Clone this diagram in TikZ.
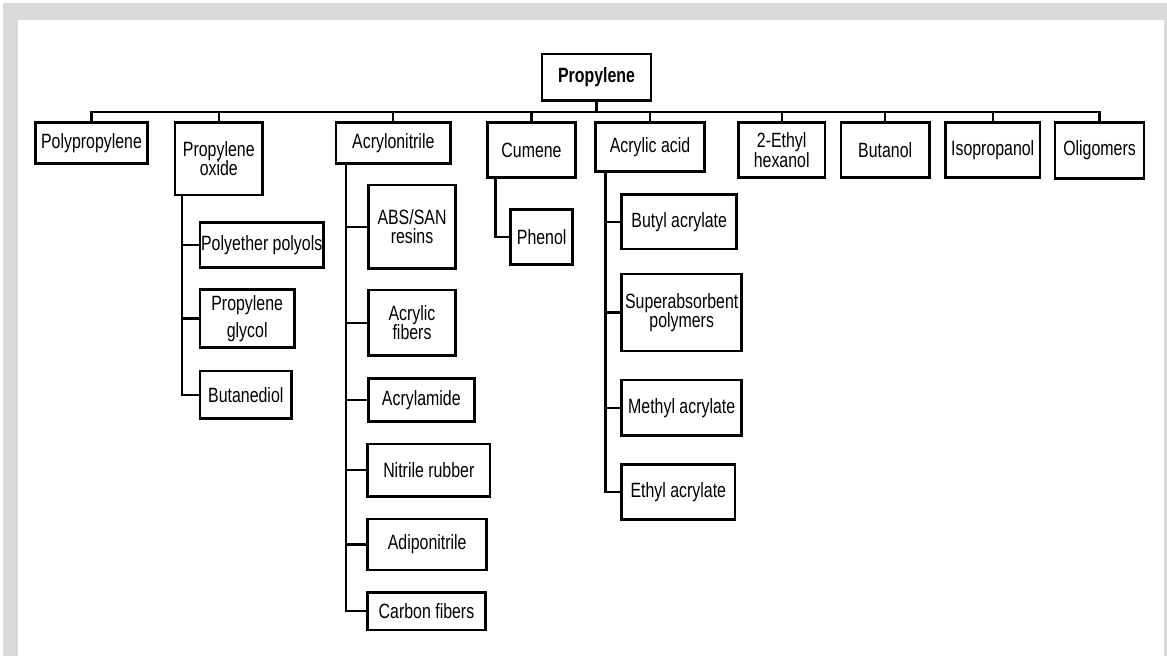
\documentclass[tikz,border=0pt]{standalone}
\usepackage{fontspec}
\setmainfont{Liberation Sans}[FakeStretch=0.77]
\definecolor{framegray}{RGB}{217,217,217}
\tikzset{
  prodbox/.style={draw=black, line width=1.9pt, fill=white, inner sep=0pt, align=center,
    font=\fontsize{15.5}{14.5}\selectfont},
  pbox/.style 2 args={prodbox, minimum width=#1, minimum height=#2},
  link/.style={line width=1.7pt}
}
\begin{document}
\begin{tikzpicture}[x=0.75pt,y=0.75pt,yscale=-1,xscale=1]
\useasboundingbox (0,0) rectangle (1167,656);

%Shape: Frame
\fill [white] (0,0) rectangle (1167,656);
\fill [framegray] (3,3) rectangle (1167,656);
\fill [white] (18,20) rectangle (1164,656);

% Root
\node [pbox={81.75pt}{35pt}, font=\fontsize{15.5}{14.5}\selectfont\bfseries] (prop) at (596.5,77.3) {Propylene};

% First level
\node [pbox={83.7pt}{30.5pt}] (poly) at (91.5,143) {Polypropylene};
\node [pbox={65.8pt}{54.2pt}] (pox) at (218.8,158.8) {Propylene\\oxide};
\node [pbox={86pt}{30.5pt}] (acn) at (393.3,143) {Acrylonitrile};
\node [pbox={66.3pt}{41.3pt}] (cum) at (531.5,150.2) {Cumene};
\node [pbox={81.5pt}{36.6pt}] (aca) at (650,147.1) {Acrylic acid};
\node [pbox={65pt}{41.3pt}] (eth) at (781.7,150.2) {2-Ethyl\\hexanol};
\node [pbox={66.2pt}{41.3pt}] (but) at (885.2,150.2) {Butanol};
\node [pbox={71pt}{41.3pt}] (iso) at (992.7,150.2) {Isopropanol};
\node [pbox={66.8pt}{41.7pt}] (oli) at (1099.5,150.5) {Oligomers};

% Propylene oxide branch
\node [pbox={92.5pt}{33.75pt}] (pep) at (261.7,244.8) {Polyether polyols};
\node [pbox={70.7pt}{43.8pt}] (pgl) at (247.2,318.5) {Propylene\\[6pt]glycol};
\node [pbox={68.8pt}{35.5pt}] (bdo) at (245.8,394.7) {Butanediol};

% Acrylonitrile branch
\node [pbox={65.5pt}{62.5pt}] (abs) at (412,226.7) {ABS/SAN\\resins};
\node [pbox={65.5pt}{49.3pt}] (afb) at (412,322.8) {Acrylic\\fibers};
\node [pbox={79.5pt}{32.25pt}] (aam) at (421.3,400.2) {Acrylamide};
\node [pbox={91.7pt}{39.5pt}] (nbr) at (428.8,470.3) {Nitrile rubber};
\node [pbox={89.25pt}{38.25pt}] (adn) at (427.2,544.5) {Adiponitrile};
\node [pbox={88.2pt}{28.3pt}] (cfb) at (426.5,611.2) {Carbon fibers};

% Cumene branch
\node [pbox={46.5pt}{41.25pt}] (phe) at (541.7,236.8) {Phenol};

% Acrylic acid branch
\node [pbox={86.25pt}{41pt}] (bac) at (679.2,221.7) {Butyl acrylate};
\node [pbox={90pt}{57.75pt}] (sap) at (681.7,312.5) {Superabsorbent\\polymers};
\node [pbox={90pt}{41.8pt}] (mac) at (681.7,407.8) {Methyl acrylate};
\node [pbox={85pt}{41.25pt}] (eac) at (678.3,491.8) {Ethyl acrylate};

%Straight Lines: bus
\coordinate (bus) at (596.5,112);
\draw [link] (prop) -- (bus);
\foreach \n in {poly,pox,acn,cum,aca,eth,but,iso,oli}
  \draw [link] (bus) -| (\n.north);

%Straight Lines: branches
\foreach \n in {pep,pgl,bdo}
  \draw [link] ([xshift=6.2pt]pox.south west) |- (\n.west);
\foreach \n in {abs,afb,aam,nbr,adn,cfb}
  \draw [link] ([xshift=8.25pt]acn.south west) |- (\n.west);
\draw [link] ([xshift=7pt]cum.south west) |- (phe.west);
\foreach \n in {bac,sap,mac,eac}
  \draw [link] ([xshift=8.25pt]aca.south west) |- (\n.west);
\end{tikzpicture}
\end{document}
